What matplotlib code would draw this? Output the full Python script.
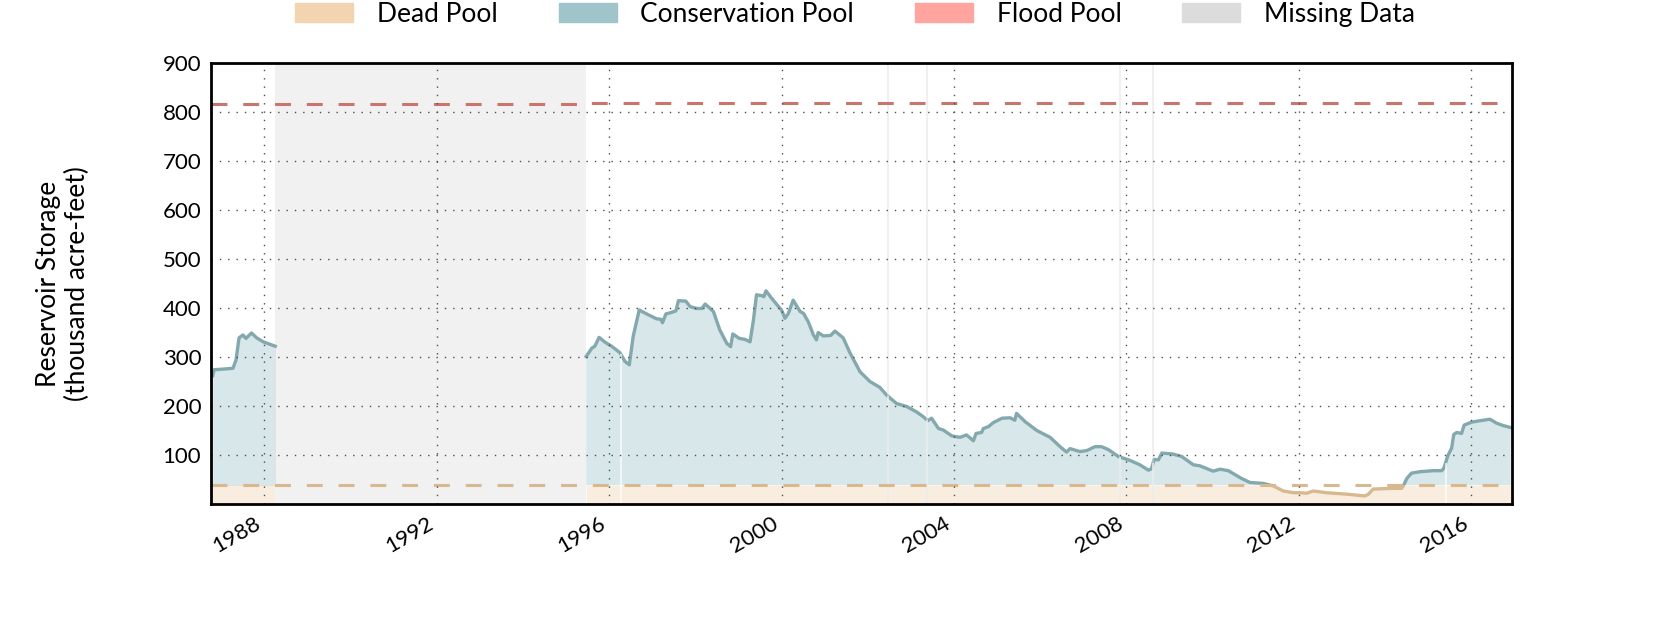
import matplotlib
matplotlib.use('Agg')
import matplotlib.pyplot as plt
from matplotlib.patches import Patch, Rectangle
import numpy as np

plt.rcParams['font.family'] = ['Lato', 'DejaVu Sans']

# storage, thousand acre-feet (decimal years)
years_a = [1986.81, 1986.84, 1987.0, 1987.15, 1987.28, 1987.35, 1987.42, 1987.51,
           1987.58, 1987.71, 1987.83, 1987.98, 1988.26]
storage_a = [262, 274, 275, 276, 277, 294, 339, 345, 338, 349, 339, 331, 322]

years_b = [1995.47, 1995.60, 1995.67, 1995.77, 1995.91, 1996.06, 1996.25, 1996.37,
           1996.47, 1996.56, 1996.70, 1996.87, 1997.10, 1997.20, 1997.24, 1997.32,
           1997.45, 1997.55, 1997.61, 1997.78, 1997.88, 1998.03, 1998.15, 1998.23,
           1998.42, 1998.57, 1998.73, 1998.82, 1998.87, 1999.02, 1999.15, 1999.27,
           1999.35, 1999.42, 1999.55, 1999.59, 1999.64, 1999.77, 1999.93, 2000.00,
           2000.08, 2000.16, 2000.27, 2000.39, 2000.43, 2000.51, 2000.62, 2000.74,
           2000.81, 2000.85, 2000.97, 2001.14, 2001.24, 2001.32, 2001.43, 2001.59,
           2001.82, 2002.05, 2002.28, 2002.44, 2002.67, 2002.90, 2003.13, 2003.29,
           2003.39, 2003.48, 2003.64, 2003.75, 2003.95, 2004.14, 2004.29, 2004.45,
           2004.51, 2004.64, 2004.68, 2004.80, 2004.91, 2005.11, 2005.30, 2005.41,
           2005.45, 2005.65, 2005.92, 2006.23, 2006.46, 2006.61, 2006.69, 2006.92,
           2007.08, 2007.27, 2007.42, 2007.58, 2007.81, 2008.08, 2008.31, 2008.51,
           2008.58, 2008.64, 2008.74, 2008.82, 2009.07, 2009.28, 2009.55, 2009.70,
           2010.01, 2010.17, 2010.36, 2010.67, 2010.86, 2011.17, 2011.40, 2011.64,
           2011.87, 2012.02, 2012.18, 2012.33, 2012.64, 2013.11, 2013.53, 2013.61,
           2013.72, 2014.19, 2014.38, 2014.42, 2014.50, 2014.61, 2014.81, 2015.12,
           2015.31, 2015.36, 2015.42, 2015.46, 2015.54, 2015.59, 2015.66, 2015.77,
           2015.83, 2016.00, 2016.20, 2016.43, 2016.58, 2016.74, 2016.91]
storage_b = [301, 318, 322, 340, 330, 322, 309, 291,
             284, 342, 396, 388, 378, 377, 370, 388,
             391, 394, 415, 414, 403, 399, 399, 408,
             393, 355, 328, 321, 347, 338, 336, 331,
             376, 427, 425, 423, 435, 420, 403, 396,
             379, 389, 416, 399, 393, 389, 372, 345,
             335, 350, 343, 344, 353, 347, 339, 308,
             270, 250, 238, 222, 205, 199, 188, 178,
             170, 175, 154, 151, 139, 136, 141, 129,
             144, 146, 154, 158, 166, 175, 176, 171,
             185, 168, 150, 136, 117, 106, 113, 107,
             109, 117, 117, 111, 97, 89, 80, 69,
             72, 91, 90, 104, 102, 97, 80, 78,
             67, 71, 68, 52, 44, 42, 37, 26.5,
             23, 23, 22, 26.5, 23, 20, 16.5, 20,
             30.5, 32, 32, 37, 52, 63, 66, 68,
             68, 73, 90, 100, 114, 142, 146, 144,
             161, 167, 170, 173, 165, 160, 156]

dead_pool = 38.5
flood_years = [1986.77, 1995.47, 1995.47, 2016.94]
flood_level = [816, 816, 819, 819]

missing_spans = [(1988.26, 1995.47)]
missing_days = [2002.46, 2003.37, 2007.85, 2008.62]
fill_gaps = [1996.27, 2002.46, 2003.37, 2007.85, 2008.62, 2015.40]

x_ticks = [1988, 1992, 1996, 2000, 2004, 2008, 2012, 2016]
y_ticks = [100, 200, 300, 400, 500, 600, 700, 800, 900]

c_dead = '#f2d4b0'
c_cons = '#9fc4c9'
c_flood = '#ffa49f'
c_miss = '#dcdcdc'
line_cons = '#83a8ad'
line_dead = '#d8b88f'
line_flood = '#c8756d'

fig = plt.figure(figsize=(16.8, 6.3), dpi=100)
ax = fig.add_axes([0.1256, 0.2, 0.7744, 0.7])
ax.set_xlim(1986.77, 2016.94)
ax.set_ylim(0, 900)

for yrs, st in [(years_a, storage_a), (years_b, storage_b)]:
    yrs = np.array(yrs)
    st = np.array(st, dtype=float)
    ax.fill_between(yrs, 0, np.minimum(st, dead_pool), color=c_dead, alpha=0.4, lw=0)
    ax.fill_between(yrs, dead_pool, st, where=st >= dead_pool, interpolate=True,
                    color=c_cons, alpha=0.4, lw=0)
    upper = ax.plot(yrs, st, color=line_cons, lw=2.4, solid_joinstyle='round')[0]
    lower = ax.plot(yrs, st, color=line_dead, lw=2.4, solid_joinstyle='round')[0]
    upper.set_clip_path(Rectangle((1980, dead_pool), 50, 1000, transform=ax.transData))
    lower.set_clip_path(Rectangle((1980, -100), 50, 100 + dead_pool, transform=ax.transData))

gap_tops = np.interp(fill_gaps, years_b, storage_b)
ax.vlines(fill_gaps, 0, gap_tops, color='white', lw=1.2, alpha=0.8)
for d in missing_days:
    ax.axvline(d, color=c_miss, lw=1.2, alpha=0.5)
for s, e in missing_spans:
    ax.axvspan(s, e, color=c_miss, alpha=0.4, lw=0)

ax.axhline(dead_pool, color=line_dead, lw=2.2, dashes=(5.2, 5.2))
ax.plot(flood_years, flood_level, color=line_flood, lw=2.2, dashes=(5.2, 5.2))

ax.set_xticks(x_ticks)
ax.set_xticklabels([str(t) for t in x_ticks], rotation=30, ha='right')
ax.set_yticks(y_ticks)
ax.tick_params(length=0, labelsize=16, pad=7)
ax.grid(True, color='0.3', linestyle=(0, (1, 5)), lw=1)
ax.set_axisbelow(False)
for sp in ax.spines.values():
    sp.set_linewidth(2)
    sp.set_color('black')
    sp.set_zorder(5)

ax.set_ylabel('Reservoir Storage\n(thousand acre-feet)', fontsize=19, labelpad=52)

handles = [Patch(color=c_dead, label='Dead Pool'),
           Patch(color=c_cons, label='Conservation Pool'),
           Patch(color=c_flood, label='Flood Pool'),
           Patch(color=c_miss, label='Missing Data')]
fig.legend(handles=handles, loc='upper center', bbox_to_anchor=(0.509, 1.035), ncol=4,
           frameon=False, fontsize=19, handlelength=2.2, handleheight=0.7,
           handletextpad=0.9, columnspacing=2.3)

fig.savefig('out.png', dpi=100)
